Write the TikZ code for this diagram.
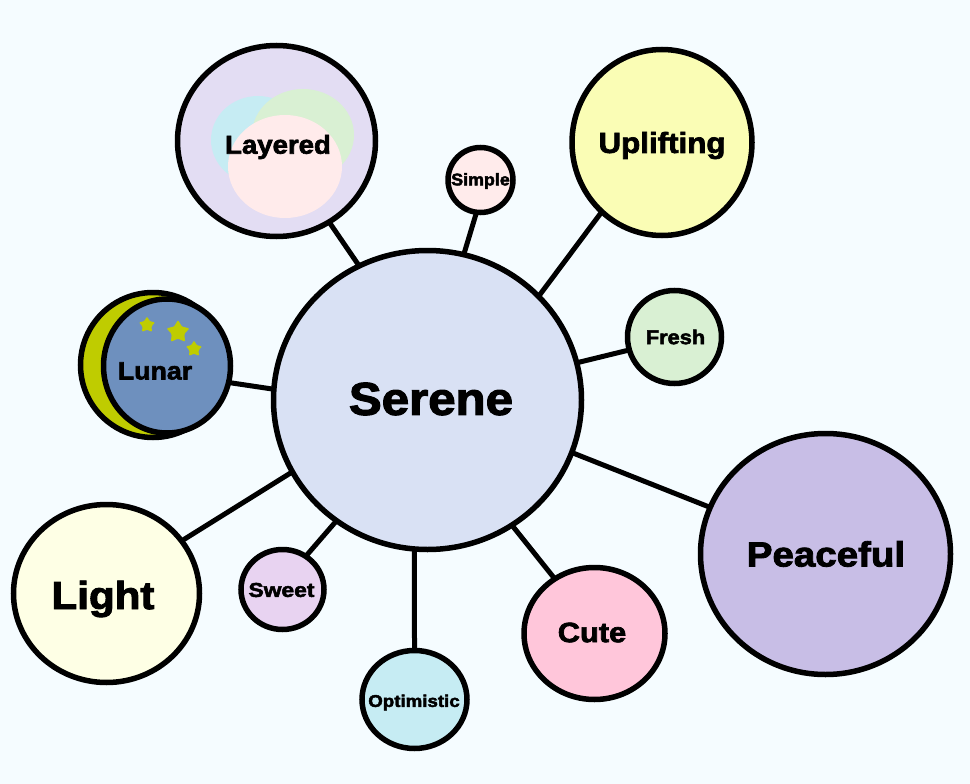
\documentclass[tikz,border=0pt]{standalone}
\usepackage{fontspec}
\usepackage{graphicx}
\setmainfont{Liberation Sans}
\usetikzlibrary{shapes.geometric}
\definecolor{bgc}{HTML}{F5FCFF}
\definecolor{sereneC}{HTML}{D9E1F4}
\definecolor{lavC}{HTML}{E3DDF3}
\definecolor{pinkC}{HTML}{FFEBEB}
\definecolor{yelC}{HTML}{FAFDB5}
\definecolor{greenC}{HTML}{D9F0D3}
\definecolor{purpC}{HTML}{C8BEE6}
\definecolor{cuteC}{HTML}{FFC6DA}
\definecolor{blueC}{HTML}{C6ECF3}
\definecolor{sweetC}{HTML}{E8D3F1}
\definecolor{lightC}{HTML}{FEFFE5}
\definecolor{lunarC}{HTML}{6E90BE}
\definecolor{moonC}{HTML}{BFCC00}
\newfontfamily\boldf[FakeBold=2.4]{Liberation Sans Bold}
\newcommand{\hs}[2]{\scalebox{#1}[1]{#2}}
\tikzset{
  bubble/.style={ellipse,draw=black,line width=5.5pt,inner sep=0pt,outer sep=0pt},
  blob/.style={ellipse,inner sep=0pt,outer sep=0pt},
  lab/.style={inner sep=0pt,font=\boldf\fontsize{#1}{#1}\selectfont,text=black},
  link/.style={draw=black,line width=5pt},
  starry/.style={star,star points=5,star point ratio=1.8,fill=moonC,inner sep=0pt,outer sep=0pt,rounded corners=1pt}
}
\begin{document}
\begin{tikzpicture}[x=1pt,y=-1pt]
\useasboundingbox (0,0) rectangle (970,784);
\fill[bgc] (0,0) rectangle (970,784);
\node[bubble,fill=sereneC,minimum width=308pt,minimum height=299pt] (serene) at (427.5,400) {};
\node[bubble,fill=lavC,minimum width=198pt,minimum height=191pt] (layered) at (276.5,141) {};
\node[blob,fill=blueC,minimum width=94pt,minimum height=88pt] (lay1) at (258,140) {};
\node[blob,fill=greenC,minimum width=102pt,minimum height=92pt] (lay2) at (303,135) {};
\node[blob,fill=pinkC,minimum width=114pt,minimum height=103pt] (lay3) at (285,166.5) {};
\node[bubble,fill=pinkC,minimum width=65pt,minimum height=65pt] (simple) at (480.5,180) {};
\node[bubble,fill=yelC,minimum width=180pt,minimum height=186pt] (uplifting) at (662,142.5) {};
\node[bubble,fill=greenC,minimum width=94pt,minimum height=93pt] (fresh) at (674.5,337) {};
\node[bubble,fill=purpC,minimum width=250pt,minimum height=241pt] (peaceful) at (825.5,554) {};
\node[bubble,fill=cuteC,minimum width=141pt,minimum height=132pt] (cute) at (594.5,633.5) {};
\node[bubble,fill=blueC,minimum width=105pt,minimum height=98pt] (optimistic) at (414.5,699.5) {};
\node[bubble,fill=sweetC,minimum width=83pt,minimum height=80pt] (sweet) at (282.5,589.5) {};
\node[bubble,fill=lightC,minimum width=186pt,minimum height=178pt] (light) at (106.5,593.5) {};
\node[bubble,fill=moonC,minimum width=145pt,minimum height=145pt] (moon) at (153,365) {};
\node[bubble,fill=lunarC,minimum width=127pt,minimum height=134pt] (lunar) at (167,366) {};
\node[starry,minimum size=17pt] (s1) at (147,325) {};
\node[starry,minimum size=24pt] (s2) at (178,332) {};
\node[starry,minimum size=17pt] (s3) at (194,349) {};

\draw[link] (serene.117) -- (layered.-57);
\draw[link] (serene.76) -- (simple.263);
\draw[link] (serene.43) -- (uplifting.229);
\draw[link] (serene.14) -- (fresh.196);
\draw[link] (serene.-20) -- (peaceful.158);
\draw[link] (serene.-56) -- (cute.126);
\draw[link] (serene.265) -- (optimistic.90);
\draw[link] (serene.233) -- (sweet.55);
\draw[link] (serene.208) -- (light.35);
\draw[link] (serene.176) -- (lunar.-15);

\node[lab=46] (tserene) at (431,399) {\hs{1.07}{Serene}};
\node[lab=26] (tlayered) at (278,147) {\hs{1.06}{Layered}};
\node[lab=17] (tsimple) at (480.5,181) {\hs{1.05}{Simple}};
\node[lab=29] (tuplifting) at (662,145.5) {\hs{1.08}{Uplifting}};
\node[lab=20] (tfresh) at (675.5,337) {\hs{1.09}{Fresh}};
\node[lab=35] (tpeaceful) at (826,554) {\hs{1.1}{Peaceful}};
\node[lab=28] (tcute) at (592,632.5) {\hs{1.1}{Cute}};
\node[lab=17] (toptimistic) at (414,702.5) {\hs{1.1}{Optimistic}};
\node[lab=20] (tsweet) at (281.5,590) {\hs{1.14}{Sweet}};
\node[lab=39] (tlight) at (103,599) {\hs{1.08}{Light}};
\node[lab=25] (tlunar) at (155,371) {\hs{1.07}{Lunar}};
\end{tikzpicture}
\end{document}
